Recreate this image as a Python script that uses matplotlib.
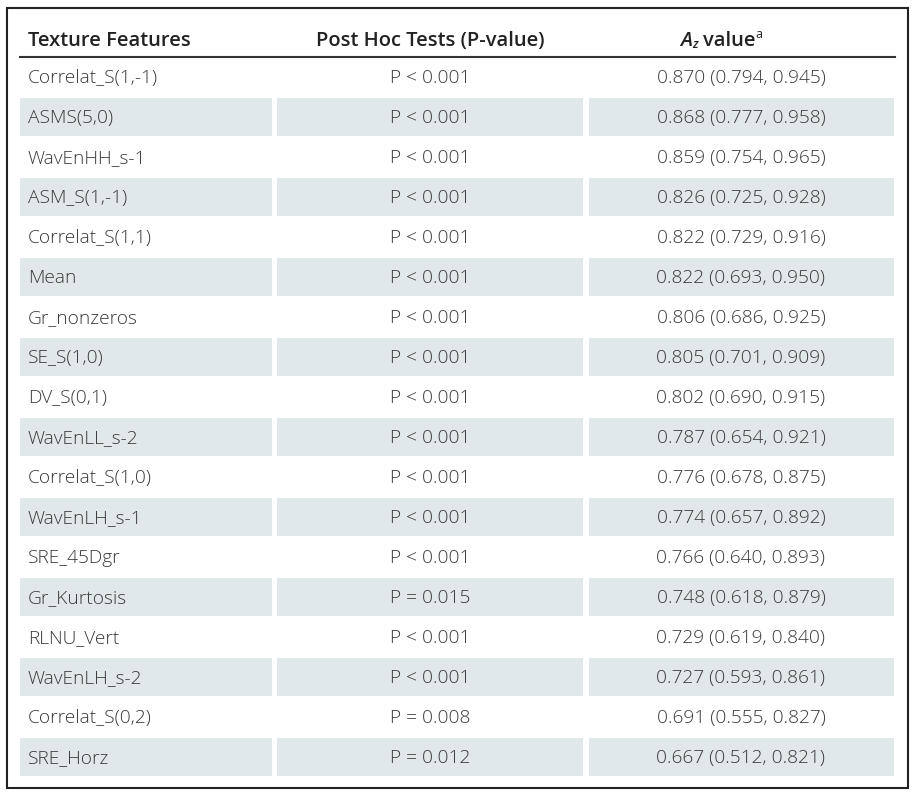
import matplotlib
matplotlib.use("Agg")
import matplotlib.pyplot as plt
from matplotlib.patches import Rectangle

headers = ["Texture Features", "Post Hoc Tests (P-value)", "value"]
features = ["Correlat_S(1,-1)", "ASMS(5,0)", "WavEnHH_s-1", "ASM_S(1,-1)", "Correlat_S(1,1)",
            "Mean", "Gr_nonzeros", "SE_S(1,0)", "DV_S(0,1)", "WavEnLL_s-2", "Correlat_S(1,0)",
            "WavEnLH_s-1", "SRE_45Dgr", "Gr_Kurtosis", "RLNU_Vert", "WavEnLH_s-2",
            "Correlat_S(0,2)", "SRE_Horz"]
pvalues = ["P < 0.001"] * 13 + ["P = 0.015", "P < 0.001", "P < 0.001", "P = 0.008", "P = 0.012"]
az = [0.870, 0.868, 0.859, 0.826, 0.822, 0.822, 0.806, 0.805, 0.802, 0.787, 0.776, 0.774,
      0.766, 0.748, 0.729, 0.727, 0.691, 0.667]
lo = [0.794, 0.777, 0.754, 0.725, 0.729, 0.693, 0.686, 0.701, 0.690, 0.654, 0.678, 0.657,
      0.640, 0.618, 0.619, 0.593, 0.555, 0.512]
hi = [0.945, 0.958, 0.965, 0.928, 0.916, 0.950, 0.925, 0.909, 0.915, 0.921, 0.875, 0.892,
      0.893, 0.879, 0.840, 0.861, 0.827, 0.821]

fig = plt.figure(figsize=(9.15, 8), dpi=100)
ax = fig.add_axes([0, 0, 1, 1])
ax.set_xlim(0, 915)
ax.set_ylim(800, 0)
ax.axis("off")

tc = "#3a3a3a"
shade = "#e1e8e9"
cols = [(20, 272), (277, 583), (589, 894)]
fs = 13.8
hfs = 14.5
fam = "Open Sans"

ax.add_patch(Rectangle((7, 8), 901, 780, fill=False, edgecolor="#222222", lw=1.5))
ax.text(28, 41, headers[0], fontsize=hfs, color="#222", va="center", family=fam, weight="semibold")
ax.text(430, 41, headers[1], fontsize=hfs, color="#222", va="center", ha="center", family=fam, weight="semibold")
ax.text(680, 41, "A", fontsize=hfs, color="#222", va="center", family=fam, style="italic", weight="semibold")
ax.text(692, 45, "z", fontsize=9, color="#222", va="center", family=fam, style="italic", weight="semibold")
ax.text(703, 41, headers[2], fontsize=hfs, color="#222", va="center", family=fam, weight="semibold")
ax.text(755, 35, "a", fontsize=9, color="#222", va="center", family=fam)
ax.plot([20, 895], [56.5, 56.5], color="#333", lw=1.5)

for i, f in enumerate(features):
    y0 = 57 + 40 * i
    yc = y0 + 21
    if i % 2 == 1:
        for a, b in cols:
            ax.add_patch(Rectangle((a, y0 + 1), b - a, 38, color=shade, lw=0))
    ax.text(28, yc, f, fontsize=fs, color=tc, va="center", family=fam, weight="light")
    ax.text(430, yc, pvalues[i], fontsize=fs, color=tc, va="center", ha="center", family=fam, weight="light")
    ax.text(741, yc, f"{az[i]:.3f} ({lo[i]:.3f}, {hi[i]:.3f})", fontsize=fs, color=tc,
            va="center", ha="center", family=fam, weight="light")

fig.savefig("out.png", dpi=100)
